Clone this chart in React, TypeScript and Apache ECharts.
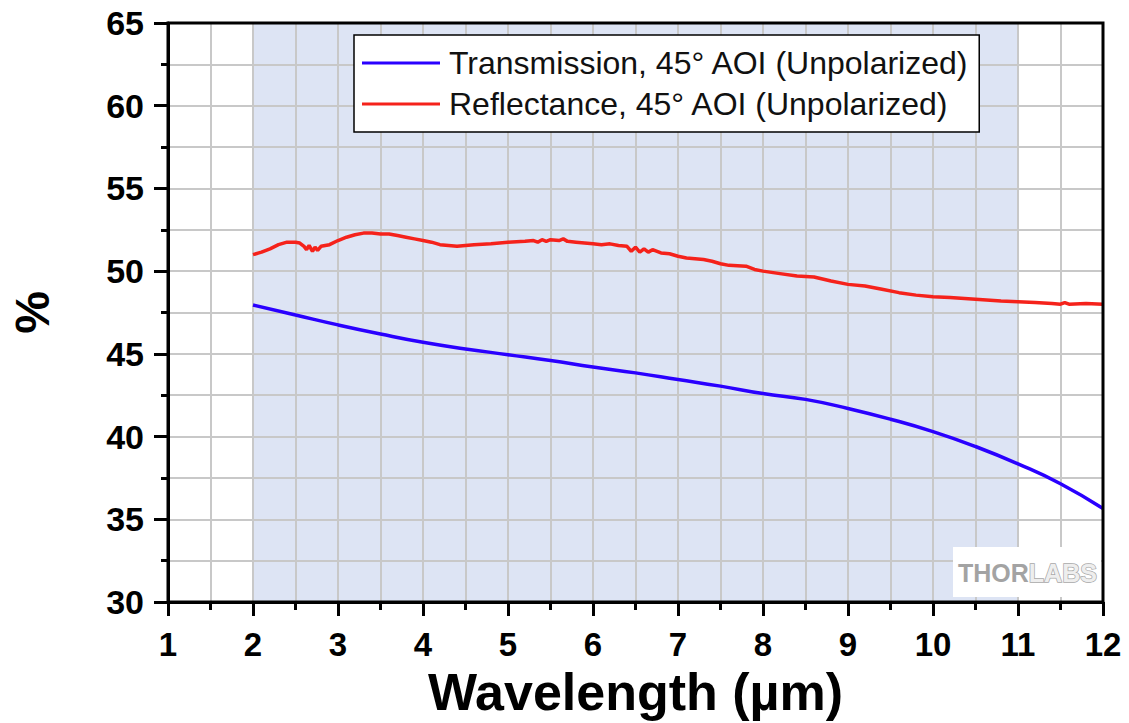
import React, { useEffect, useRef } from "react";
import * as echarts from "echarts";

const xTicks = [1, 2, 3, 4, 5, 6, 7, 8, 9, 10, 11, 12];
const yTicks = [30, 35, 40, 45, 50, 55, 60, 65];

const transWl = [2, 2.5, 3, 3.5, 4, 4.5, 5, 5.5, 6, 6.5, 7, 7.5, 8, 8.5, 9, 9.5, 10, 10.5, 11, 11.5, 12];
const transVal = [47.95, 47.35, 46.75, 46.2, 45.7, 45.3, 44.95, 44.6, 44.2, 43.85, 43.45, 43.05, 42.6, 42.25, 41.7, 41.05, 40.3, 39.4, 38.35, 37.15, 35.65];

const reflWl = [
  2.0, 2.1, 2.2, 2.3, 2.4, 2.5, 2.55, 2.6, 2.63, 2.66, 2.7, 2.73, 2.76, 2.8, 2.9,
  3.0, 3.1, 3.2, 3.3, 3.4, 3.5, 3.6, 3.7, 3.8, 3.9, 4.0, 4.1, 4.2, 4.3, 4.4, 4.5,
  4.6, 4.8, 5.0, 5.2, 5.3, 5.35, 5.4, 5.45, 5.5, 5.6, 5.65, 5.7, 5.8, 5.9, 6.0,
  6.1, 6.2, 6.3, 6.4, 6.45, 6.5, 6.55, 6.6, 6.65, 6.7, 6.8, 6.9, 7.0, 7.1, 7.2,
  7.3, 7.4, 7.5, 7.6, 7.8, 7.9, 8.0, 8.2, 8.4, 8.6, 8.8, 9.0, 9.2, 9.4, 9.6,
  9.8, 10.0, 10.2, 10.5, 10.8, 11.0, 11.2, 11.4, 11.5, 11.55, 11.6, 11.8, 12.0,
];
const reflVal = [
  51.0, 51.15, 51.35, 51.6, 51.75, 51.75, 51.7, 51.5, 51.3, 51.55, 51.2, 51.45, 51.25, 51.5, 51.6,
  51.85, 52.05, 52.2, 52.3, 52.3, 52.25, 52.25, 52.15, 52.05, 51.95, 51.85, 51.75, 51.6, 51.55, 51.5, 51.55,
  51.6, 51.65, 51.75, 51.8, 51.85, 51.75, 51.9, 51.8, 51.9, 51.85, 51.95, 51.8, 51.75, 51.7, 51.65,
  51.6, 51.65, 51.55, 51.5, 51.2, 51.45, 51.15, 51.35, 51.15, 51.3, 51.1, 51.05, 50.9, 50.8, 50.75,
  50.7, 50.6, 50.45, 50.35, 50.3, 50.1, 50.0, 49.85, 49.7, 49.65, 49.4, 49.2, 49.1, 48.9, 48.7,
  48.55, 48.45, 48.4, 48.3, 48.2, 48.15, 48.1, 48.05, 48.0, 48.1, 48.0, 48.05, 48.0,
];

const bandRange = [2, 11];
const seriesNames = ["Transmission, 45° AOI (Unpolarized)", "Reflectance, 45° AOI (Unpolarized)"];

export default function App() {
  const ref = useRef<HTMLDivElement>(null);
  useEffect(() => {
    if (!ref.current) return;
    const chart = echarts.init(ref.current, null, { renderer: "svg" });
    const font = "Arial, 'Liberation Sans', sans-serif";
    const gridLine = { show: true, lineStyle: { color: "#c8c8c8", width: 2 } };
    chart.setOption({
      animation: false,
      backgroundColor: "#ffffff",
      textStyle: { fontFamily: font },
      grid: {
        left: 167,
        right: 26,
        top: 23,
        bottom: 120,
        show: true,
        backgroundColor: "transparent",
        borderColor: "#000",
        borderWidth: 3,
        z: 6,
      },
      legend: {
        orient: "vertical",
        left: 354,
        top: 35,
        padding: [12, 10, 12, 8],
        itemGap: 9,
        itemWidth: 78,
        itemHeight: 3,
        backgroundColor: "#ffffff",
        borderColor: "#000",
        borderWidth: 1.5,
        borderRadius: 0,
        z: 10,
        textStyle: { fontSize: 32, color: "#111", fontFamily: font, padding: [0, 0, 0, 4] },
        data: seriesNames.map((n) => ({ name: n, icon: "rect" })),
      },
      xAxis: {
        type: "value",
        z: 4,
        min: xTicks[0],
        max: xTicks[xTicks.length - 1],
        interval: 1,
        name: "Wavelength (µm)",
        nameLocation: "middle",
        nameGap: 64,
        nameTextStyle: { fontSize: 52, fontWeight: "bold", color: "#000", fontFamily: font },
        axisLine: { show: true, onZero: false, lineStyle: { color: "#000", width: 3 } },
        axisTick: { show: true, length: 14, lineStyle: { color: "#000", width: 3 } },
        minorTick: { show: true, splitNumber: 2, length: 8, lineStyle: { color: "#000", width: 3 } },
        splitLine: gridLine,
        minorSplitLine: gridLine,
        axisLabel: { fontSize: 33, fontWeight: "bold", color: "#000", margin: 26, fontFamily: font },
      },
      yAxis: {
        type: "value",
        z: 4,
        min: yTicks[0],
        max: yTicks[yTicks.length - 1],
        interval: 5,
        name: "%",
        nameLocation: "middle",
        nameGap: 112,
        nameTextStyle: { fontSize: 48, fontWeight: "bold", color: "#000", fontFamily: font },
        axisLine: { show: true, onZero: false, lineStyle: { color: "#000", width: 3 } },
        axisTick: { show: true, length: 14, lineStyle: { color: "#000", width: 3 } },
        minorTick: { show: true, splitNumber: 2, length: 7, lineStyle: { color: "#000", width: 3 } },
        splitLine: gridLine,
        minorSplitLine: gridLine,
        axisLabel: { fontSize: 34, fontWeight: "bold", color: "#000", margin: 24, fontFamily: font },
      },
      graphic: [
        {
          type: "rect",
          left: 953,
          top: 547,
          shape: { width: 148, height: 50 },
          style: { fill: "#ffffff" },
          z: 10,
        },
        {
          type: "text",
          left: 958,
          top: 560,
          z: 11,
          style: {
            text: "{a|THOR}{b|LABS}",
            rich: {
              a: { fontSize: 25, fontWeight: "bold", fill: "#a3a3a3", fontFamily: font },
              b: { fontSize: 25, fontWeight: "bold", fill: "#eeeeee", stroke: "#a8a8a8", lineWidth: 1.5, fontFamily: font },
            },
          },
        },
      ],
      series: [
        {
          name: "band",
          type: "line",
          data: [],
          z: 1,
          silent: true,
          markArea: {
            silent: true,
            itemStyle: { color: "#dde4f4" },
            data: [[{ xAxis: bandRange[0] }, { xAxis: bandRange[1] }]],
          },
        },
        {
          name: seriesNames[0],
          type: "line",
          data: transWl.map((x, i) => [x, transVal[i]]),
          smooth: true,
          showSymbol: false,
          lineStyle: { color: "#2a00ff", width: 3.5 },
          itemStyle: { color: "#2a00ff" },
          z: 5,
        },
        {
          name: seriesNames[1],
          type: "line",
          data: reflWl.map((x, i) => [x, reflVal[i]]),
          showSymbol: false,
          lineStyle: { color: "#f5221b", width: 3.5 },
          itemStyle: { color: "#f5221b" },
          z: 5,
        },
      ],
    });
    return () => chart.dispose();
  }, []);
  return <div ref={ref} style={{ position: "fixed", left: 0, top: 0, width: 1129, height: 723 }} />;
}
